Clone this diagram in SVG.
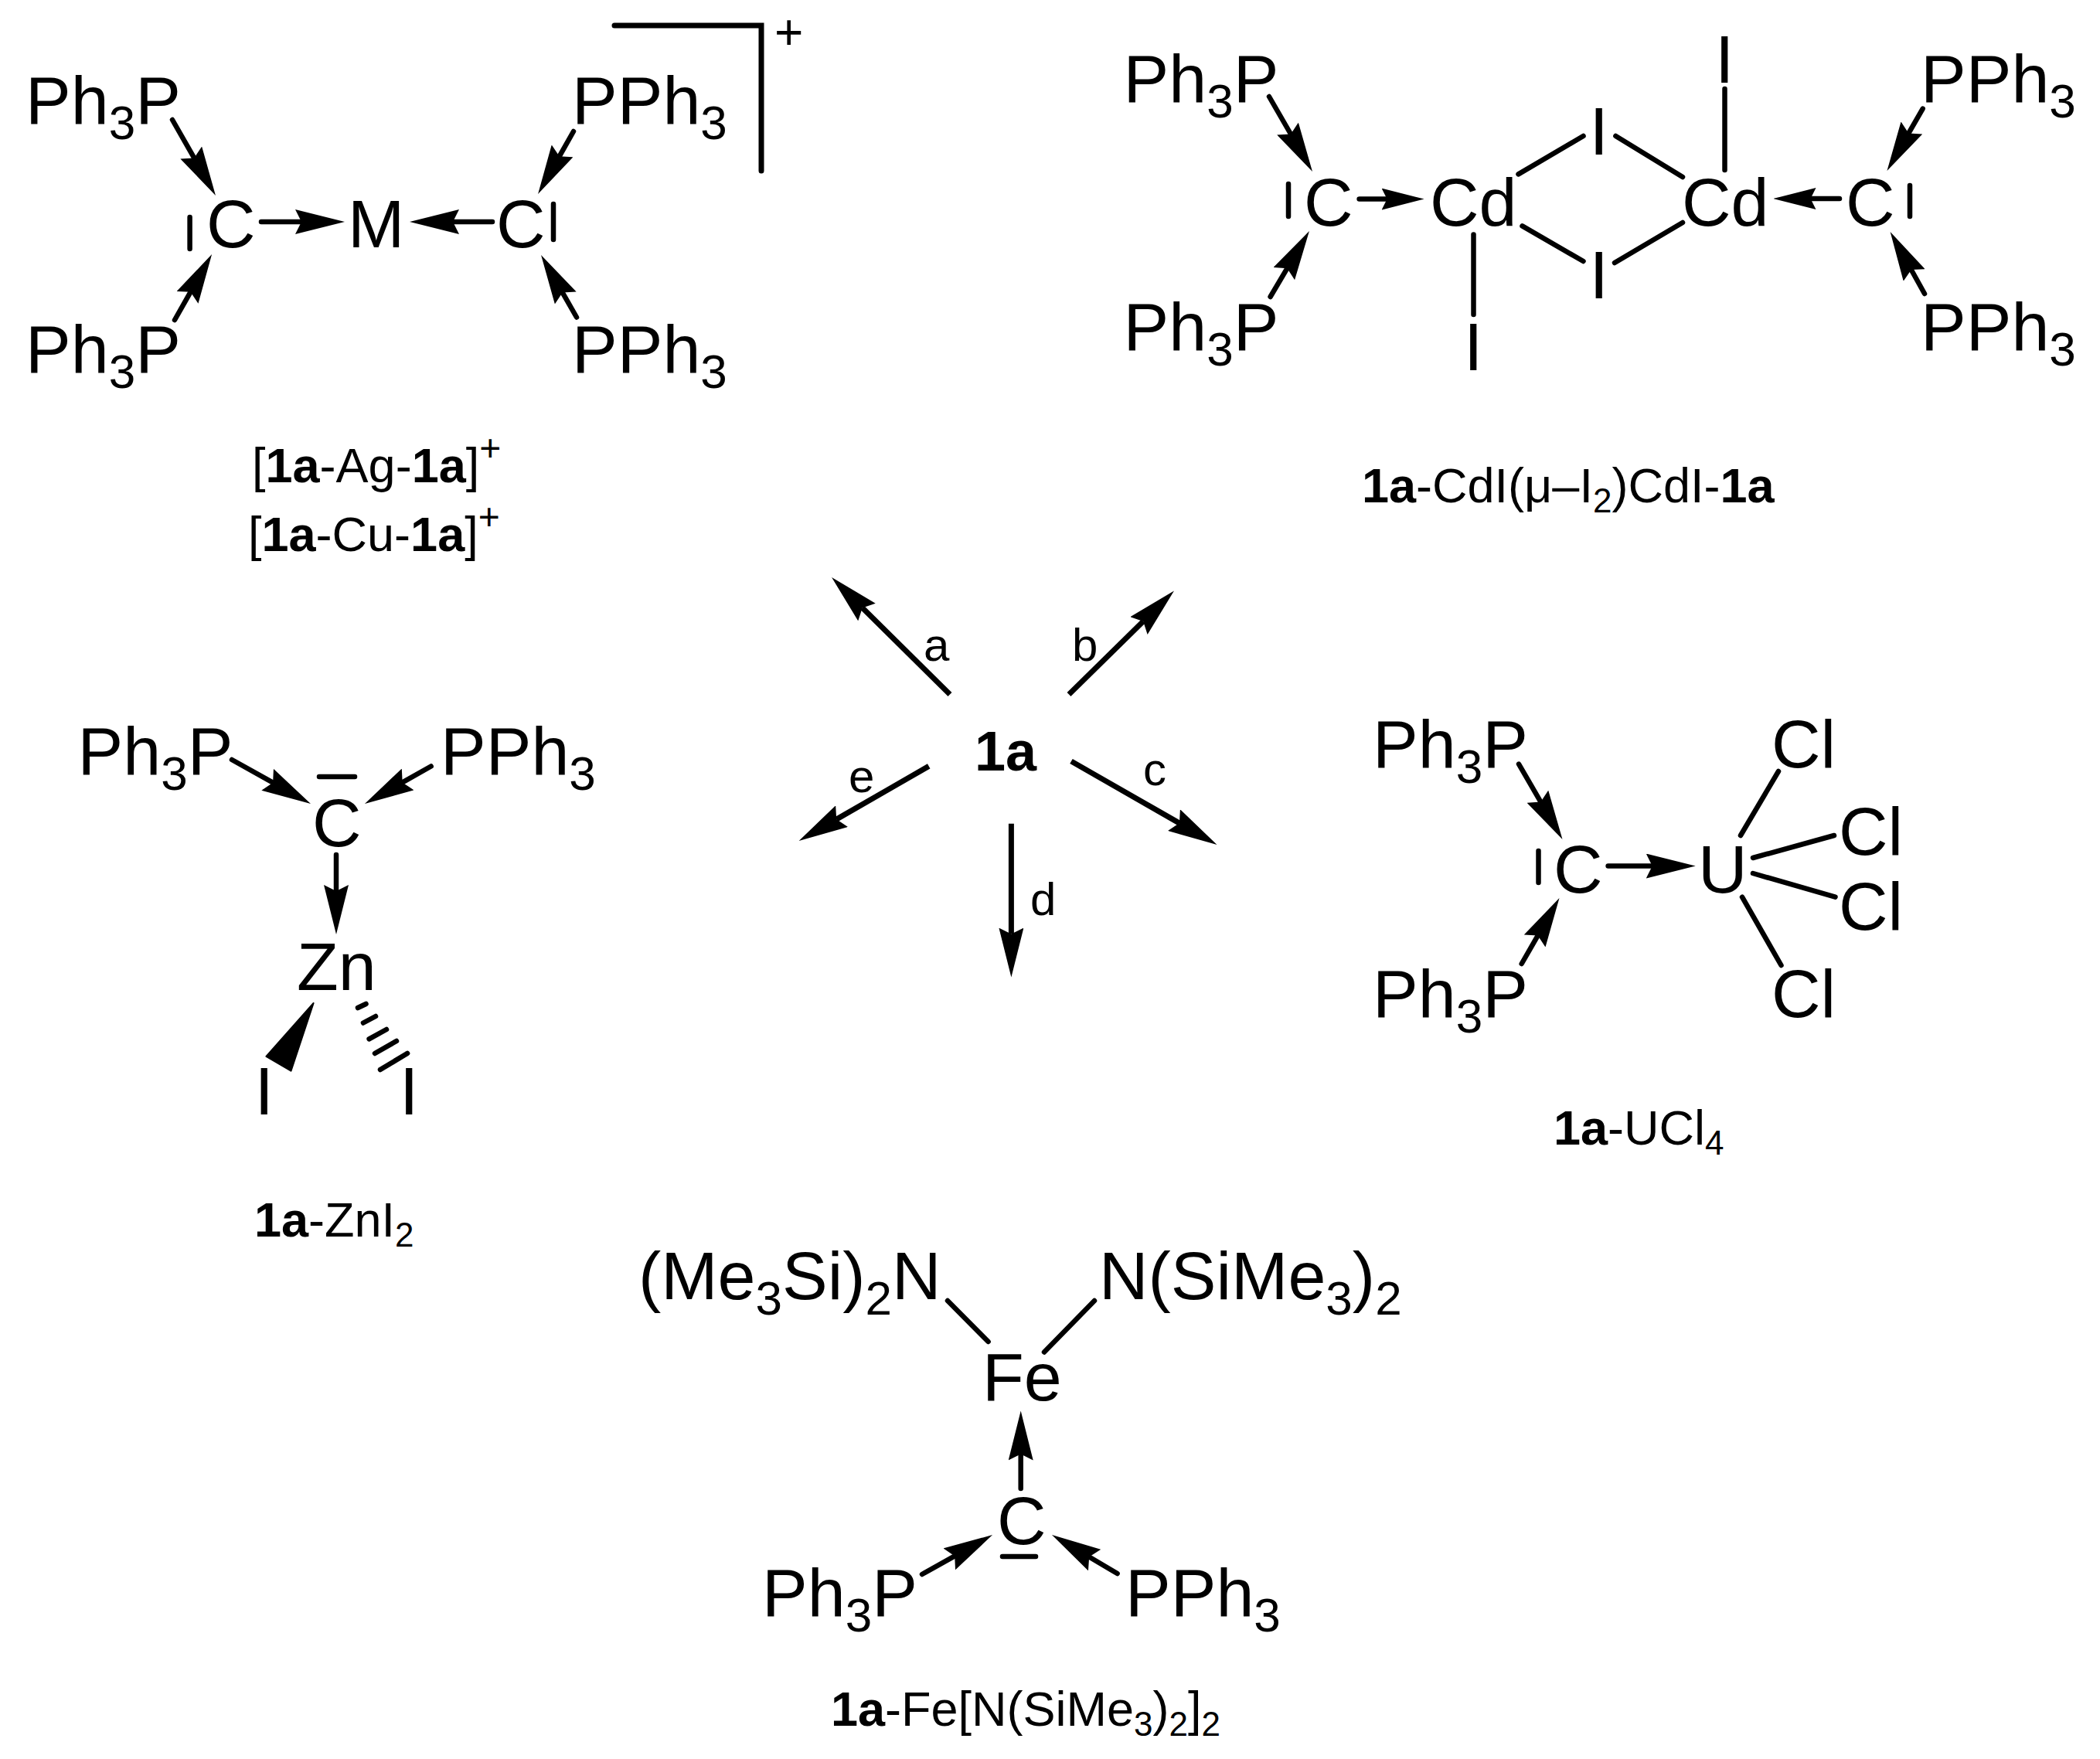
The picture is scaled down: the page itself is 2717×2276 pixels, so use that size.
<svg xmlns="http://www.w3.org/2000/svg" width="2717" height="2276" viewBox="0 0 2717 2276">
<style>
text{font-family:"Liberation Sans",Arial,sans-serif;fill:#000}
.m{font-size:88px}
.l{font-size:63px}
.s{font-size:62px}
.ls{font-size:44px}
.lp{font-size:48px}
.r{font-size:60px}
.b{font-weight:bold}
.bond{fill:none;stroke:#000;stroke-width:6.5;stroke-linecap:round;stroke-linejoin:miter}
.rx{fill:none;stroke:#000;stroke-width:7;stroke-linecap:butt}
.arr{marker-end:url(#ah)}
.arrs{marker-end:url(#ahs)}
.hash{stroke:#000;stroke-width:6.5;stroke-linecap:round}
</style>
<defs>
<marker id="ah" markerUnits="userSpaceOnUse" markerWidth="64" markerHeight="32" viewBox="0 0 64 32" refX="8" refY="16" orient="auto"><polygon points="64,16 0,0 8,16 0,32" fill="#000"/></marker>
<marker id="ahs" markerUnits="userSpaceOnUse" markerWidth="55" markerHeight="28" viewBox="0 0 55 28" refX="7" refY="14" orient="auto"><polygon points="55,14 0,0 7,14 0,28" fill="#000"/></marker>
</defs>
<rect width="2717" height="2276" fill="#fff"/>
<g id="connectors">
<g id="conn-ag">
<line class="bond arr" x1="223" y1="155" x2="251.2" y2="204.4"/>
<line class="bond arr" x1="226" y1="414" x2="246.5" y2="377.8"/>
<line class="bond arr" x1="338" y1="287" x2="390" y2="287"/>
<line class="bond arr" x1="637" y1="287" x2="586" y2="287"/>
<line class="bond arr" x1="742" y1="170" x2="723.7" y2="202.3"/>
<line class="bond arr" x1="746" y1="410.5" x2="727.8" y2="378.6"/>
</g>
<g id="conn-cd">
<line class="bond arr" x1="1642" y1="125" x2="1670" y2="173.5"/>
<line class="bond arr" x1="1643.6" y1="384" x2="1665.4" y2="347.2"/>
<line class="bond arrs" x1="1758.6" y1="257.6" x2="1794.6" y2="257.6"/>
<line class="bond arrs" x1="2380" y1="257" x2="2342.5" y2="257"/>
<line class="bond arr" x1="2487.7" y1="140.6" x2="2469.4" y2="172.4"/>
<line class="bond arr" x1="2490" y1="380" x2="2472.8" y2="349"/>
<line class="bond" x1="2231.5" y1="115" x2="2231.5" y2="220"/>
<line class="bond" x1="1906.5" y1="303.6" x2="1906.5" y2="407"/>
<line class="bond" x1="1964.5" y1="225.4" x2="2048.5" y2="176"/>
<line class="bond" x1="2090.4" y1="176" x2="2177" y2="229"/>
<line class="bond" x1="1969.5" y1="292.4" x2="2048.5" y2="338"/>
<line class="bond" x1="2089" y1="340" x2="2177" y2="288"/>
</g>
<g id="conn-zn">
<line class="bond arr" x1="300" y1="983" x2="353.1" y2="1012.7"/>
<line class="bond arr" x1="557.7" y1="991.5" x2="520.7" y2="1012.4"/>
<line class="bond arr" x1="435" y1="1106" x2="435" y2="1153"/>
<polygon points="405.6,1298 344.4,1367 376.5,1385.6" fill="#000" stroke="#000" stroke-width="2" stroke-linejoin="round"/>
<line class="hash" x1="463" y1="1304" x2="473.5" y2="1299"/>
<line class="hash" x1="470" y1="1323.5" x2="486" y2="1315"/>
<line class="hash" x1="477.6" y1="1344.4" x2="500" y2="1332"/>
<line class="hash" x1="485" y1="1363" x2="513" y2="1347"/>
<line class="hash" x1="492" y1="1384" x2="527" y2="1363"/>
</g>
<g id="conn-u">
<line class="bond arr" x1="1965" y1="988.6" x2="1993.4" y2="1037.6"/>
<line class="bond arr" x1="1968.7" y1="1247" x2="1989.6" y2="1210.6"/>
<line class="bond arr" x1="2080.6" y1="1120.5" x2="2137.7" y2="1120.5"/>
<line class="bond" x1="2252" y1="1081" x2="2301" y2="998"/>
<line class="bond" x1="2268" y1="1110" x2="2373" y2="1081"/>
<line class="bond" x1="2268" y1="1130" x2="2374.5" y2="1160.7"/>
<line class="bond" x1="2254" y1="1160.7" x2="2304.5" y2="1249"/>
</g>
<g id="conn-fe">
<line class="bond" x1="1226" y1="1683" x2="1278.6" y2="1736"/>
<line class="bond" x1="1416" y1="1683" x2="1351" y2="1749.5"/>
<line class="bond arr" x1="1320.7" y1="1926" x2="1320.7" y2="1881.5"/>
<line class="bond arr" x1="1193" y1="2037" x2="1235.2" y2="2013.4"/>
<line class="bond arr" x1="1445.6" y1="2036" x2="1409.2" y2="2014.5"/>
</g>
<g id="conn-reactions">
<line class="rx arr" x1="1229" y1="898.6" x2="1115.8" y2="786.4"/>
<line class="rx arr" x1="1383" y1="898.6" x2="1479.1" y2="803.9"/>
<line class="rx arr" x1="1386" y1="985" x2="1525.9" y2="1065.1"/>
<line class="rx arr" x1="1308.4" y1="1065.7" x2="1308.4" y2="1208.6"/>
<line class="rx arr" x1="1201.7" y1="991.4" x2="1082.2" y2="1060.1"/>
</g>
</g>
<g id="node-ag">
<text class="m" x="33" y="160">Ph<tspan class="s" dy="20">3</tspan><tspan dy="-20">P</tspan></text>
<text class="m" x="33" y="482">Ph<tspan class="s" dy="20">3</tspan><tspan dy="-20">P</tspan></text>
<text class="m" x="740" y="160">PPh<tspan class="s" dy="20">3</tspan></text>
<text class="m" x="740" y="482">PPh<tspan class="s" dy="20">3</tspan></text>
<text class="m" x="267" y="320">C</text>
<text class="m" x="450" y="320">M</text>
<text class="m" x="642" y="320">C</text>
<line class="bond" x1="245.6" y1="281" x2="245.6" y2="322"/>
<line class="bond" x1="716" y1="264" x2="716" y2="310"/>
<polyline points="795,33 985,33 985,221" fill="none" stroke="#000" stroke-width="7" stroke-linecap="round" stroke-linejoin="miter"/>
<text font-size="64" x="1002" y="64">+</text>
<text class="l" x="326" y="624">[<tspan class="b">1a</tspan>-Ag-<tspan class="b">1a</tspan>]<tspan class="lp" dy="-28">+</tspan></text>
<text class="l" x="321" y="713">[<tspan class="b">1a</tspan>-Cu-<tspan class="b">1a</tspan>]<tspan class="lp" dy="-28">+</tspan></text>
</g>
<g id="node-cd">
<text class="m" x="1453.5" y="132">Ph<tspan class="s" dy="20">3</tspan><tspan dy="-20">P</tspan></text>
<text class="m" x="1453.5" y="453">Ph<tspan class="s" dy="20">3</tspan><tspan dy="-20">P</tspan></text>
<text class="m" x="2485" y="132">PPh<tspan class="s" dy="20">3</tspan></text>
<text class="m" x="2485" y="453">PPh<tspan class="s" dy="20">3</tspan></text>
<text class="m" x="1687" y="292">C</text>
<text class="m" x="1850" y="292">Cd</text>
<text class="m" x="2176" y="292">Cd</text>
<text class="m" x="2388" y="292">C</text>
<line class="bond" x1="1667" y1="238" x2="1667" y2="280"/>
<line class="bond" x1="2471" y1="240" x2="2471" y2="280"/>
<text class="m" x="2056.5" y="200">I</text>
<text class="m" x="2056.5" y="386">I</text>
<text class="m" x="2219" y="107">I</text>
<text class="m" x="1894" y="478.5">I</text>
<text class="l" x="1762" y="650"><tspan class="b">1a</tspan>-CdI(μ–I<tspan class="ls" dy="13">2</tspan><tspan dy="-13">)CdI-</tspan><tspan class="b">1a</tspan></text>
</g>
<g id="node-zn">
<text class="m" x="100.5" y="1002">Ph<tspan class="s" dy="20">3</tspan><tspan dy="-20">P</tspan></text>
<text class="m" x="570" y="1002">PPh<tspan class="s" dy="20">3</tspan></text>
<text class="m" x="404" y="1095">C</text>
<line class="bond" x1="413" y1="1005" x2="459" y2="1005"/>
<text class="m" x="384" y="1281">Zn</text>
<text class="m" x="329.5" y="1442">I</text>
<text class="m" x="517" y="1442">I</text>
<text class="l" x="329" y="1600"><tspan class="b">1a</tspan>-ZnI<tspan class="ls" dy="13">2</tspan></text>
</g>
<g id="node-u">
<text class="m" x="1776" y="993">Ph<tspan class="s" dy="20">3</tspan><tspan dy="-20">P</tspan></text>
<text class="m" x="1776" y="1316">Ph<tspan class="s" dy="20">3</tspan><tspan dy="-20">P</tspan></text>
<text class="m" x="2010" y="1155">C</text>
<line class="bond" x1="1990.5" y1="1101" x2="1990.5" y2="1142"/>
<text class="m" x="2197" y="1155">U</text>
<text class="m" x="2292" y="993">Cl</text>
<text class="m" x="2379" y="1106">Cl</text>
<text class="m" x="2379" y="1202.6">Cl</text>
<text class="m" x="2292" y="1316">Cl</text>
<text class="l" x="2010" y="1481"><tspan class="b">1a</tspan>-UCl<tspan class="ls" dy="13">4</tspan></text>
</g>
<g id="node-fe">
<text class="m" x="826" y="1681">(Me<tspan class="s" dy="20">3</tspan><tspan dy="-20">Si)</tspan><tspan class="s" dy="20">2</tspan><tspan dy="-20">N</tspan></text>
<text class="m" x="1422" y="1681">N(SiMe<tspan class="s" dy="20">3</tspan><tspan dy="-20">)</tspan><tspan class="s" dy="20">2</tspan></text>
<text class="m" x="1271" y="1811.7">Fe</text>
<text class="m" x="1290" y="1998">C</text>
<line class="bond" x1="1297" y1="2014" x2="1340" y2="2014"/>
<text class="m" x="986" y="2091">Ph<tspan class="s" dy="20">3</tspan><tspan dy="-20">P</tspan></text>
<text class="m" x="1456" y="2091">PPh<tspan class="s" dy="20">3</tspan></text>
<text class="l" x="1075" y="2232.5"><tspan class="b">1a</tspan>-Fe[N(SiMe<tspan class="ls" dy="13">3</tspan><tspan dy="-13">)</tspan><tspan class="ls" dy="13">2</tspan><tspan dy="-13">]</tspan><tspan class="ls" dy="13">2</tspan></text>
</g>
<g id="node-1a">
<text class="b" font-size="72" x="1261" y="997">1a</text>
<text class="r" x="1195" y="855">a</text>
<text class="r" x="1387" y="855">b</text>
<text class="r" x="1479" y="1016">c</text>
<text class="r" x="1333" y="1183.6">d</text>
<text class="r" x="1098" y="1025">e</text>
</g>
</svg>
